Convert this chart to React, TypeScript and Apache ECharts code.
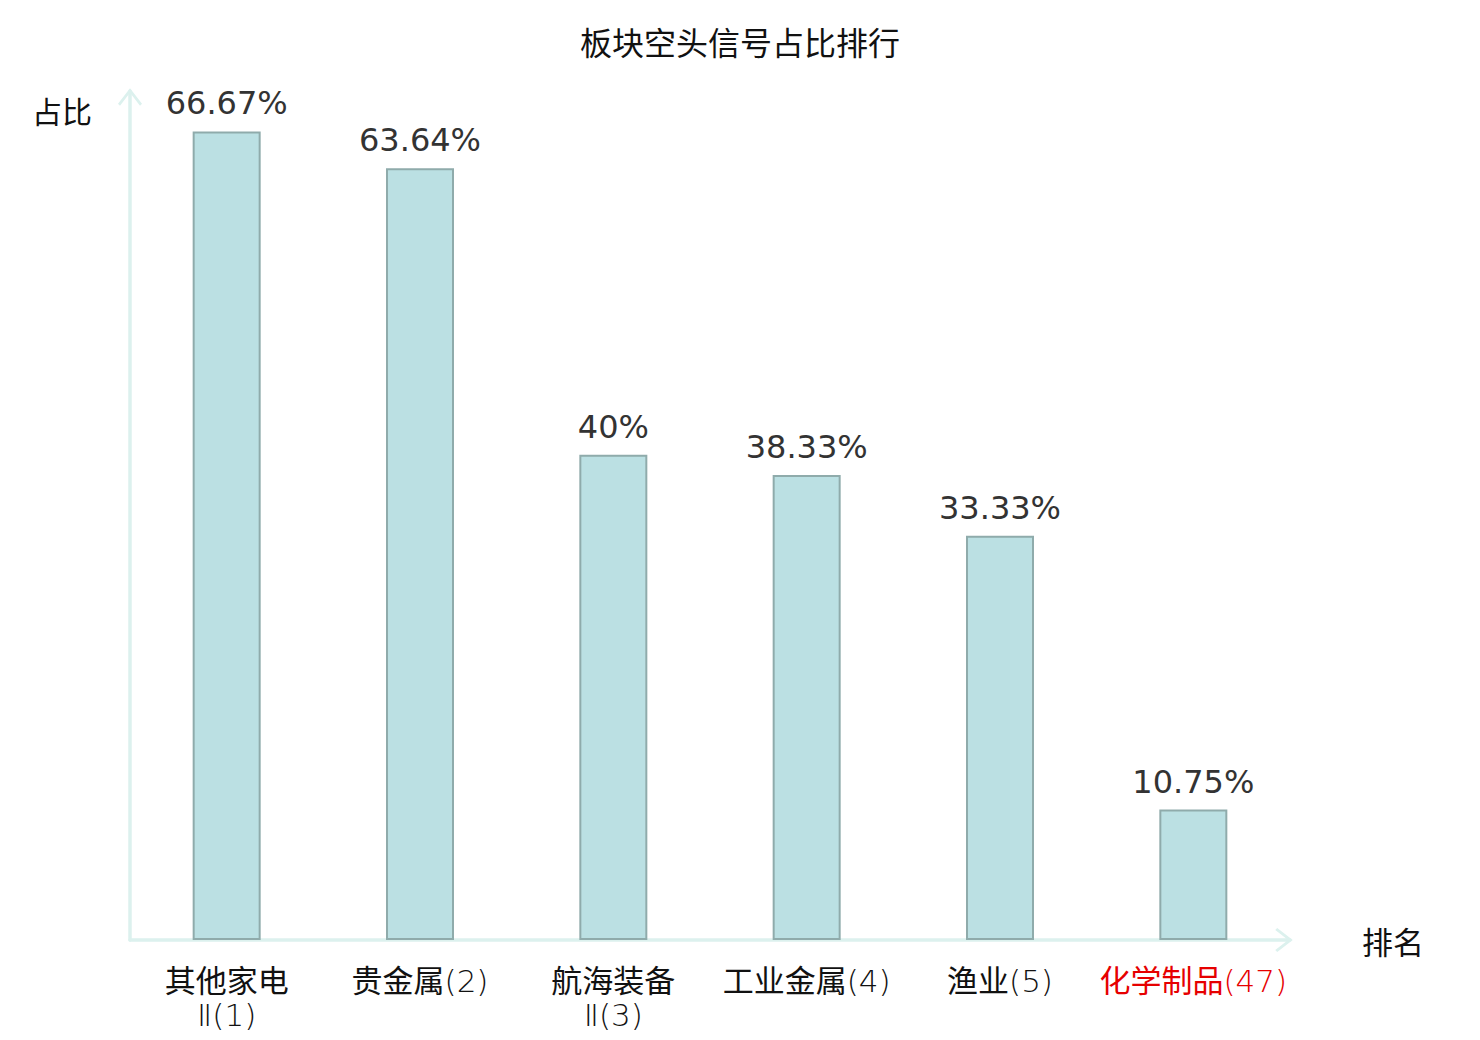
import React, { useEffect, useRef } from "react";
import * as echarts from "echarts";

const titleText = "板块空头信号占比排行";
const categories = [
  "其他家电Ⅱ(1)",
  "贵金属(2)",
  "航海装备Ⅱ(3)",
  "工业金属(4)",
  "渔业(5)",
  "化学制品(47)",
];
const values = [66.67, 63.64, 40, 38.33, 33.33, 10.75];
const highlightCategory = "化学制品(47)";
const yAxisName = "占比";
const xAxisName = "排名";

const chevron = "path://M0,15.5 L12,0 L24,15.5 L22,17.5 L12,4.6 L2,17.5 Z";

export default function App() {
  const ref = useRef<HTMLDivElement>(null);
  useEffect(() => {
    if (!ref.current) return;
    const chart = echarts.init(ref.current, undefined, { renderer: "svg" });
    const cjk = "'Noto Sans CJK SC', sans-serif";
    const axisLine = {
      show: true,
      lineStyle: { color: "#dcf1ee", width: 3.5 },
      symbol: ["none", chevron],
      symbolSize: [24, 17.5],
      symbolOffset: [0, -6],
    };
    chart.setOption({
      animation: false,
      backgroundColor: "#ffffff",
      title: {
        text: titleText,
        left: "center",
        top: 25,
        padding: 0,
        textStyle: { fontSize: 32, fontWeight: "normal", color: "#111", fontFamily: cjk },
      },
      grid: { left: 130, right: 190, top: 91, bottom: 100, containLabel: false },
      xAxis: {
        type: "category",
        data: categories.map((c) =>
          c === highlightCategory ? { value: c, textStyle: { color: "#e60000" } } : c
        ),
        name: xAxisName,
        nameLocation: "end",
        nameGap: 72,
        nameTextStyle: { fontSize: 31, color: "#111", fontFamily: cjk },
        axisLine,
        axisTick: { show: false },
        axisLabel: {
          fontSize: 31,
          color: "#111",
          fontFamily:
            "'DejaVu Sans Light', 'DejaVu Sans ExtraLight', 'Noto Sans CJK SC', sans-serif",
          margin: 24,
          lineHeight: 34,
          interval: 0,
          formatter: (v: string) => v.replace("Ⅱ", "\nⅡ"),
        },
      },
      yAxis: {
        type: "value",
        min: 0,
        max: 70,
        name: yAxisName,
        nameLocation: "end",
        nameGap: -19,
        nameTextStyle: {
          fontSize: 30,
          color: "#111",
          fontFamily: cjk,
          align: "right",
          verticalAlign: "middle",
          padding: [0, 38, 0, 0],
        },
        axisLine,
        axisTick: { show: false },
        axisLabel: { show: false },
        splitLine: { show: false },
      },
      series: [
        {
          type: "bar",
          data: values,
          barWidth: 68,
          itemStyle: { color: "#bbe0e3", borderColor: "#8fabab", borderWidth: 2 },
          label: {
            show: true,
            position: "top",
            distance: 12,
            fontSize: 32,
            color: "#333",
            fontFamily: "'DejaVu Sans', sans-serif",
            formatter: (p: any) => `${p.value}%`,
          },
        },
      ],
    });
    return () => chart.dispose();
  }, []);
  return (
    <div
      ref={ref}
      style={{ position: "fixed", left: 0, top: 0, width: 1480, height: 1040, background: "#fff" }}
    />
  );
}
